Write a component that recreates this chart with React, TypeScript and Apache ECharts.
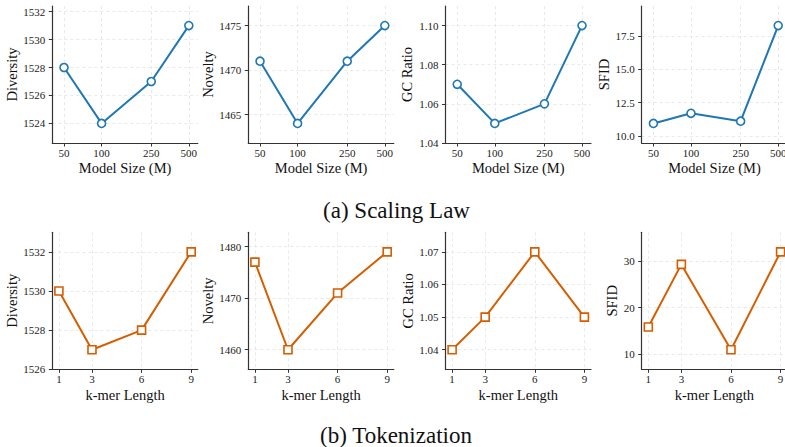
import React, { useEffect, useRef } from 'react';
import * as echarts from 'echarts';

// ---- data ----
const modelSizes = [50, 100, 250, 500];
const kmerLengths = [1, 3, 6, 9];

const scaleDiversity = [1528, 1524, 1527, 1531];
const scaleNovelty = [1471, 1464, 1471, 1475];
const scaleGC = [1.07, 1.05, 1.06, 1.1];
const scaleSFID = [10.93, 11.69, 11.1, 18.28];

const tokDiversity = [1530, 1527, 1528, 1532];
const tokNovelty = [1477, 1460, 1471, 1479];
const tokGC = [1.04, 1.05, 1.07, 1.05];
const tokSFID = [15.8, 29.3, 10.9, 32.0];

const metricNames = ['Diversity', 'Novelty', 'GC Ratio', 'SFID'];

const scaleTicks = [
  [1524, 1526, 1528, 1530, 1532],
  [1465, 1470, 1475],
  [1.04, 1.06, 1.08, 1.1],
  [10, 12.5, 15, 17.5],
];
const tokTicks = [
  [1526, 1528, 1530, 1532],
  [1460, 1470, 1480],
  [1.04, 1.05, 1.06, 1.07],
  [10, 20, 30],
];
const scaleDecimals = [0, 0, 2, 1];
const tokDecimals = [0, 0, 2, 0];

const titleA = '(a) Scaling Law';
const titleB = '(b) Tokenization';
const xNameA = 'Model Size (M)';
const xNameB = 'k-mer Length';

// ---- styling ----
const BLUE = '#1f77b4';
const ORANGE = '#d55e00';
const FONT = 'Liberation Serif';
const gridLefts = [52.3, 248.3, 445.5, 641.7];
const gridWidth = 145.5;
const gridHeight = 137;
const rowTops = [6, 232.3];
const yNameGapsA = [33, 33, 31, 30.5];
const yNameGapsB = [33, 32, 30.5, 21];

function pad(vals: number[]) {
  const mn = Math.min(...vals);
  const mx = Math.max(...vals);
  const r = mx - mn;
  return [mn - 0.2 * r, mx + 0.2 * r];
}

export default function App() {
  const ref = useRef<HTMLDivElement>(null);
  useEffect(() => {
    if (!ref.current) return;
    const chart = echarts.init(ref.current, undefined, { renderer: 'svg' });

    const grids: any[] = [];
    const xAxes: any[] = [];
    const yAxes: any[] = [];
    const series: any[] = [];

    const axisCommon = {
      axisLine: { show: true, onZero: false, lineStyle: { color: '#333', width: 1.2 } },
      axisTick: { show: true, inside: false, length: 3.5, lineStyle: { color: '#333', width: 1 } },
      splitLine: { show: true, lineStyle: { color: '#e3e3e3', width: 0.8, type: [3, 3] } },
    };
    const labelStyle = { fontFamily: FONT, fontSize: 11, color: '#222' };
    const nameStyle = { fontFamily: FONT, fontSize: 14.5, color: '#111' };

    const rows = [
      {
        data: [scaleDiversity, scaleNovelty, scaleGC, scaleSFID],
        ticks: scaleTicks,
        decimals: scaleDecimals,
        xName: xNameA,
        yGaps: yNameGapsA,
        color: BLUE,
        symbol: 'circle',
        log: true,
      },
      {
        data: [tokDiversity, tokNovelty, tokGC, tokSFID],
        ticks: tokTicks,
        decimals: tokDecimals,
        xName: xNameB,
        yGaps: yNameGapsB,
        color: ORANGE,
        symbol: 'rect',
        log: false,
      },
    ];

    rows.forEach((row, ri) => {
      row.data.forEach((vals, pi) => {
        const idx = grids.length;
        grids.push({
          left: gridLefts[pi],
          top: rowTops[ri],
          width: gridWidth,
          height: gridHeight,
          containLabel: false,
          outerBoundsMode: 'none',
        });
        const xs = row.log ? modelSizes.map((s) => Math.log10(s)) : kmerLengths.slice();
        const xMin = row.log ? 1.605 : 0.6;
        const xMax = row.log ? 2.771 : 9.4;
        xAxes.push({
          type: 'value',
          gridIndex: idx,
          min: xMin,
          max: xMax,
          ...axisCommon,
          axisTick: { ...axisCommon.axisTick, customValues: xs },
          axisLabel: {
            ...labelStyle,
            margin: 4.5,
            customValues: xs,
            formatter: (v: number) => (row.log ? String(Math.round(Math.pow(10, v))) : String(v)),
          },
          name: row.xName,
          nameLocation: 'middle',
          nameGap: ri === 0 ? 17 : 18,
          nameTextStyle: nameStyle,
        });
        const [yMin, yMax] = pad(vals);
        const dec = row.decimals[pi];
        yAxes.push({
          type: 'value',
          gridIndex: idx,
          min: yMin,
          max: yMax,
          ...axisCommon,
          axisTick: { ...axisCommon.axisTick, customValues: row.ticks[pi] },
          axisLabel: {
            ...labelStyle,
            margin: 7,
            customValues: row.ticks[pi],
            formatter: (v: number) => v.toFixed(dec),
          },
          name: metricNames[pi],
          nameLocation: 'middle',
          nameGap: row.yGaps[pi],
          nameTextStyle: nameStyle,
        });
        series.push({
          type: 'line',
          xAxisIndex: idx,
          yAxisIndex: idx,
          data: xs.map((x, i) => [x, vals[i]]),
          symbol: row.symbol,
          symbolSize: 8,
          showSymbol: true,
          lineStyle: { color: row.color, width: 2 },
          itemStyle: { color: '#fff', borderColor: row.color, borderWidth: 1.6 },
          emphasis: { disabled: true },
          z: 3,
        });
      });
    });

    chart.setOption({
      animation: false,
      grid: grids,
      xAxis: xAxes,
      yAxis: yAxes,
      series,
      graphic: [
        {
          type: 'text',
          x: 396.5,
          y: 210,
          style: {
            text: titleA,
            fontFamily: FONT,
            fontSize: 23,
            fill: '#111',
            textAlign: 'center',
            textVerticalAlign: 'middle',
          },
        },
        {
          type: 'text',
          x: 396,
          y: 435,
          style: {
            text: titleB,
            fontFamily: FONT,
            fontSize: 23,
            fill: '#111',
            textAlign: 'center',
            textVerticalAlign: 'middle',
          },
        },
      ],
    });
    return () => chart.dispose();
  }, []);

  return (
    <div
      ref={ref}
      style={{ position: 'fixed', left: 0, top: 0, width: 785, height: 447, background: '#fff' }}
    />
  );
}
